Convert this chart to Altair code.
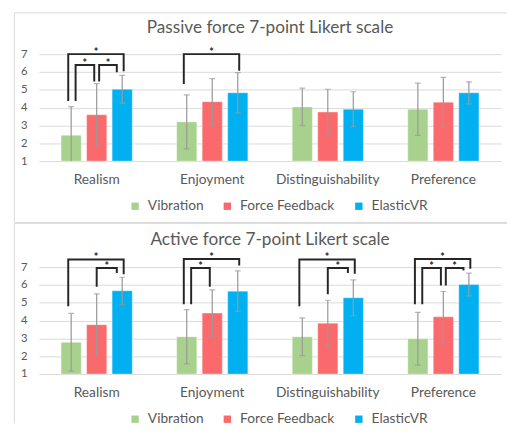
import altair as alt
import pandas as pd

FONT = "Lato"
TEXT = "#595959"

categories = ["Realism", "Enjoyment", "Distinguishability", "Preference"]
conditions = ["Vibration", "Force Feedback", "ElasticVR"]
colors = ["#A9D18E", "#FA6A6C", "#00B0F0"]

# Passive force panel: means and SDs per condition (order = categories)
passive_vibration = [2.45, 3.20, 4.04, 3.91]
passive_force = [3.60, 4.33, 3.75, 4.30]
passive_elastic = [5.03, 4.83, 3.91, 4.83]
passive_vibration_sd = [1.60, 1.52, 1.05, 1.47]
passive_force_sd = [1.74, 1.30, 1.28, 1.40]
passive_elastic_sd = [0.78, 1.13, 0.98, 0.62]

# Active force panel
active_vibration = [2.78, 3.09, 3.09, 2.98]
active_force = [3.77, 4.42, 3.85, 4.21]
active_elastic = [5.67, 5.65, 5.28, 6.02]
active_vibration_sd = [1.62, 1.52, 1.06, 1.48]
active_force_sd = [1.73, 1.30, 1.29, 1.42]
active_elastic_sd = [0.76, 1.14, 1.00, 0.64]

# Significance brackets: (category, left condition, right condition,
#                         bracket level, left end, right end)
passive_brackets = [
    ("Realism", "Vibration", "ElasticVR", 7.00, 4.37, 6.04),
    ("Realism", "Vibration", "Force Feedback", 6.39, 4.37, 5.47),
    ("Realism", "Force Feedback", "ElasticVR", 6.39, 5.47, 5.98),
    ("Enjoyment", "Vibration", "ElasticVR", 7.00, 5.32, 6.07),
]
active_brackets = [
    ("Realism", "Vibration", "ElasticVR", 7.43, 4.80, 6.60),
    ("Realism", "Force Feedback", "ElasticVR", 6.95, 5.90, 6.67),
    ("Enjoyment", "Vibration", "ElasticVR", 7.45, 4.91, 7.09),
    ("Enjoyment", "Vibration", "Force Feedback", 6.95, 4.91, 5.90),
    ("Distinguishability", "Vibration", "ElasticVR", 7.43, 4.80, 6.63),
    ("Distinguishability", "Force Feedback", "ElasticVR", 6.95, 5.47, 6.67),
    ("Preference", "Vibration", "ElasticVR", 7.45, 4.91, 6.90),
    ("Preference", "Vibration", "Force Feedback", 6.95, 4.91, 5.97),
    ("Preference", "Force Feedback", "ElasticVR", 6.95, 5.97, 6.81),
]

PI, PO = 0.21, 0.87
HALF = (3 - PI + 2 * PO) / 2  # half band width in bar-step units
STEP_PX = 471 / 4 / (2 * HALF)


def bar_frame(means, sds):
    rows = []
    for ci, cond in enumerate(conditions):
        for k, cat in enumerate(categories):
            m, s = means[ci][k], sds[ci][k]
            rows.append(dict(category=cat, condition=cond, mean=m, lo=m - s, hi=m + s))
    return pd.DataFrame(rows)


def bracket_frames(brackets):
    verts, stars = [], []
    for bid, (cat, lc, rc, lvl, le, re_) in enumerate(brackets):
        li, ri = conditions.index(lc), conditions.index(rc)
        if ri - li == 2:
            dl, dr = -3.0, 1.5
        elif li == 0:
            dl, dr = 4.5, -2.5
        else:
            has_vf = any(b[0] == cat and b[1] == conditions[0] and b[2] == conditions[1] for b in brackets)
            dl, dr = (2.5 if has_vf else 0.0), -5.5
        xl = (li - 1) + dl / STEP_PX
        xr = (ri - 1) + dr / STEP_PX
        for o, (xx, yy) in enumerate([(xl, le), (xl, lvl), (xr, lvl), (xr, re_)]):
            verts.append(dict(bid=bid, ord=o, category=cat, xo=xx, y=yy))
        stars.append(dict(category=cat, xo=(xl + xr) / 2, y=lvl))
    return pd.DataFrame(verts), pd.DataFrame(stars)


def panel(title, means, sds, brackets, frame_top, frame_bottom, top_edge, title_offset):
    bars = bar_frame(means, sds)
    verts, stars = bracket_frames(brackets)

    x_axis = alt.Axis(title=None, labelAngle=0, ticks=False, domain=False, grid=False,
                      labelPadding=12, labelFontSize=14, labelColor=TEXT, labelFont=FONT)
    y_axis = alt.Axis(title=None, values=[1, 2, 3, 4, 5, 6, 7], ticks=False, domain=False,
                      labelPadding=12, labelFontSize=11.5, labelColor=TEXT, labelFont=FONT,
                      gridColor="#d9d9d9", gridWidth=1)
    xs = alt.Scale(paddingInner=0, paddingOuter=0)
    ys = alt.Scale(domain=[1, 7], nice=False, zero=False)

    def X():
        return alt.X("category:N", sort=categories, scale=xs, axis=x_axis)

    def Y(f):
        return alt.Y(f, scale=ys, axis=y_axis)

    xo_n = alt.XOffset("condition:N", sort=conditions,
                       scale=alt.Scale(paddingInner=PI, paddingOuter=PO))
    xo_q = alt.XOffset("xo:Q", scale=alt.Scale(domain=[-HALF, HALF]))

    base = alt.Chart(bars)
    bar_layer = base.mark_bar(stroke="white", strokeWidth=1, strokeOpacity=0.35).encode(
        x=X(), xOffset=xo_n, y=Y("mean:Q"), y2=alt.datum(1),
        color=alt.Color("condition:N", sort=conditions,
                        scale=alt.Scale(domain=conditions, range=colors),
                        legend=alt.Legend(orient="none", legendX=91, legendY=148,
                                          direction="horizontal", title=None,
                                          symbolType="square", symbolSize=56,
                                          symbolStrokeWidth=0, labelFontSize=14,
                                          labelColor=TEXT, labelFont=FONT,
                                          columnPadding=17, labelOffset=6)),
    )
    err = base.mark_rule(color="#9a9a9a", strokeWidth=1.25, clip=True).encode(
        x=X(), xOffset=xo_n, y=Y("lo:Q"), y2="hi:Q")
    cap_hi = base.mark_tick(color="#9a9a9a", thickness=1.25, size=6, clip=True).encode(
        x=X(), xOffset=xo_n, y=Y("hi:Q"))
    cap_lo = base.mark_tick(color="#9a9a9a", thickness=1.25, size=6, clip=True).encode(
        x=X(), xOffset=xo_n, y=Y("lo:Q"))

    br = alt.Chart(verts).mark_line(color="#262626", strokeWidth=2).encode(
        x=X(), xOffset=xo_q, y=Y("y:Q"), detail="bid:N", order="ord:Q")
    st = alt.Chart(stars).mark_text(text="*", fontSize=11, fontWeight="bold", color="#262626",
                                    baseline="alphabetic", dy=2, font=FONT).encode(
        x=X(), xOffset=xo_q, y=Y("y:Q"))

    one = pd.DataFrame({"k": [0]})
    fr = alt.Chart(one)
    frame_left = fr.mark_rule(color="#d9d9d9", strokeWidth=1).encode(
        x=alt.value(-25), y=alt.value(frame_top), y2=alt.value(frame_bottom))
    frame_h = fr.mark_rule(color="#d9d9d9", strokeWidth=1).encode(
        x=alt.value(-25), x2=alt.value(477), y=alt.value(frame_top))
    frames = [frame_left, frame_h]
    if top_edge:
        frame_b = fr.mark_rule(color="#d9d9d9", strokeWidth=1).encode(
            x=alt.value(-25), x2=alt.value(477), y=alt.value(frame_bottom))
        frames.append(frame_b)

    return alt.layer(*frames, bar_layer, err, cap_hi, cap_lo, br, st).resolve_scale(
        xOffset="independent"
    ).properties(
        width=471, height=109,
        title=alt.TitleParams(title, fontSize=17.5, font=FONT, color=TEXT, fontWeight="normal",
                              anchor="middle", frame="group", offset=title_offset),
    )


top = panel("Passive force 7-point Likert scale",
            [passive_vibration, passive_force, passive_elastic],
            [passive_vibration_sd, passive_force_sd, passive_elastic_sd],
            passive_brackets, -42, 171.5, True, -24)
bottom = panel("Active force 7-point Likert scale",
               [active_vibration, active_force, active_elastic],
               [active_vibration_sd, active_force_sd, active_elastic_sd],
               active_brackets, -44.5, 159, False, -26.5)

chart = alt.vconcat(top, bottom, spacing=0).resolve_scale(color="shared").resolve_legend(
    color="independent"
).properties(
    padding={"left": 5.5, "top": 0, "right": 0, "bottom": 0},
    background="white",
).configure_view(stroke=None)

chart.save("out.html", embed_options={"renderer": "svg", "actions": False})
